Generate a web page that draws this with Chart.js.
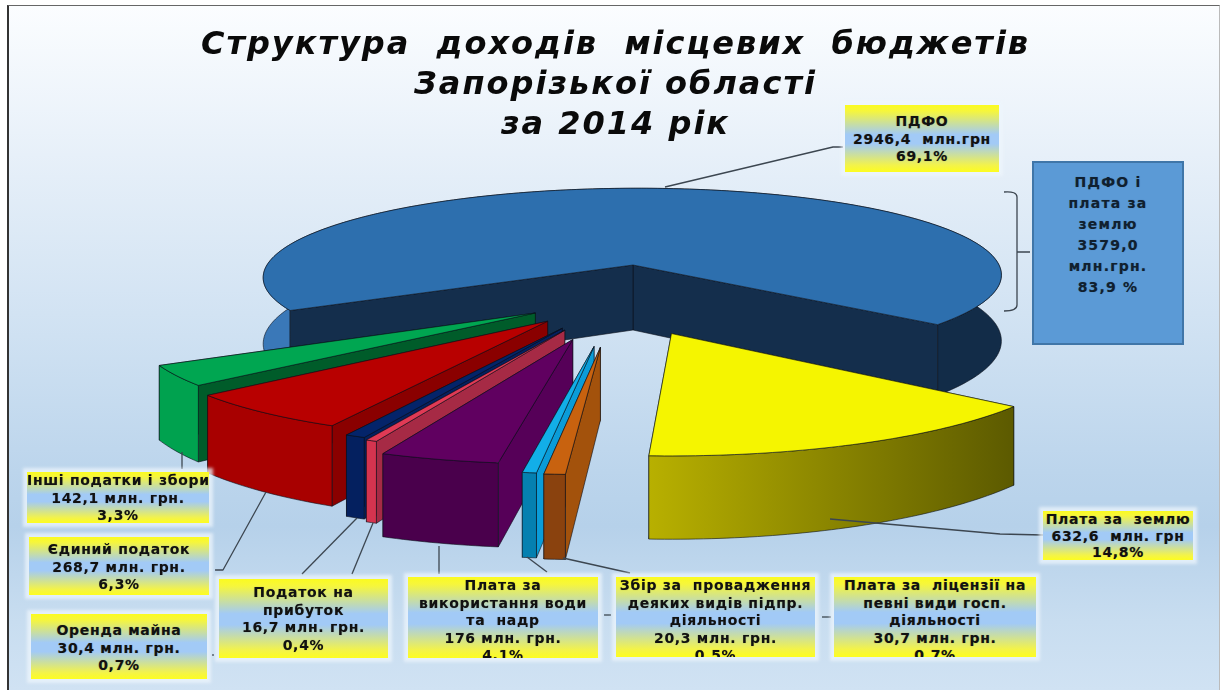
<!DOCTYPE html>
<html lang="uk">
<head>
<meta charset="utf-8">
<title>Структура доходів місцевих бюджетів</title>
<script src="https://cdn.jsdelivr.net/npm/chart.js@4"></script>
<style>
html,body{margin:0;padding:0;width:1223px;height:690px;overflow:hidden;background:#fff}
#frame{position:absolute;left:7px;top:5px;width:1213px;height:685px;box-sizing:border-box;
 border-left:2px solid #333;border-top:1px solid #666;border-right:1px solid #bbb;
 background:linear-gradient(#fbfdff 0%,#e4eef8 25%,#d2e3f3 45%,#bcd5ec 68%,#b6d1ea 76%,#c8ddf0 90%,#d0e2f3 100%)}
canvas{position:absolute;left:0;top:0}
.box{position:absolute;box-sizing:border-box;overflow:hidden;text-align:center;white-space:pre;
 font:bold 14px/17.5px "DejaVu Sans",sans-serif;letter-spacing:.7px;color:#111;
 text-shadow:0 0 1px rgba(0,0,0,.35);
 background:linear-gradient(#fbfb20 0%,#f6f63c 9%,#a2caf6 44%,#a2caf6 58%,#f3f34a 90%,#fdfd20 100%)}
.glow{position:absolute;box-shadow:0 0 3px 4px rgba(238,245,252,.75)}
#sum{position:absolute;left:1032px;top:161px;width:152px;height:184px;box-sizing:border-box;
 background:#5b9ad6;border:2px solid #4076a8;text-align:center;white-space:pre;color:#10202f;
 font:bold 14px/21px "DejaVu Sans",sans-serif;letter-spacing:1.2px;padding-top:9px;text-shadow:0 0 1px rgba(0,0,0,.3)}
</style>
</head>
<body>
<div id="frame"></div>
<canvas id="c" width="1223" height="690"></canvas>
<div id="labels"></div>
<div id="sum"></div>
<script>
// ---- data ----
const categories = ["ПДФО","Плата за землю","Плата за ліцензії на певні види госп. діяльності","Збір за провадження деяких видів підпр. діяльності","Плата за використання води та надр","Податок на прибуток","Оренда майна","Єдиний податок","Інші податки і збори"];
const valuesMln = [2946.4,632.6,30.7,20.3,176,16.7,30.4,268.7,142.1];
const percentLabels = ["69,1%","14,8%","0,7%","0,5%","4,1%","0,4%","0,7%","6,3%","3,3%"];

// ---- slice styling ----
const topColors = ["#2d6fae","#f5f500","#c8620f","#12aee8","#600060","#e03a55","#04246a","#b80000","#00a651"];
const wallLeft  = ["#3a78b8","#b8b000","#8a420e","#0580b0","#4a004c","#d5344f","#04205f","#a80000","#00a24f"];
const wallRight = ["#122c48","#5c5a00","#8a420e","#0580b0","#4a004c","#d5344f","#04205f","#a80000","#00a24f"];
const cutColors = ["#142e4c","#5c5a00","#a3520c","#0a9cd8","#560058","#a62a45","#04205f","#8a0000","#005c2a"];
const sliceShift    = [0,266,311,309,288,258,252,232,209];
const sliceShiftDir = [0,81.6,94.5,95.6,100,103.1,104,109,115];
const paintOrder = [0,8,7,6,5,4,3,2,1];
const startRotation = 240.5;

// ---- callout texts and places ----
const calloutTexts = [
 "ПДФО\n2946,4  млн.грн\n69,1%",
 "Плата за  землю\n632,6  млн. грн\n14,8%",
 "Плата за  ліцензії на\nпевні види госп.\nдіяльності\n30,7 млн. грн.\n0,7%",
 "Збір за  провадження\nдеяких видів підпр.\nдіяльності\n20,3 млн. грн.\n0,5%",
 "Плата за\nвикористання води\nта  надр\n176 млн. грн.\n4,1%",
 "Податок на\nприбуток\n16,7 млн. грн.\n0,4%",
 "Оренда майна\n30,4 млн. грн.\n0,7%",
 "Єдиний податок\n268,7 млн. грн.\n6,3%",
 "Інші податки і збори\n142,1 млн. грн.\n3,3%"];
const calloutBoxes = [
 [845,105,154,67,8,17.5],[1043,511,150,49,0,16.5],[834,577,202,80,0,17.5],[616,577,199,80,0,17.5],[408,577,190,81,0,17.5],
 [219,579,169,79,5,17.5],[31,614,176,65,8,17.5],[29,537,180,58,4,17.5],[27,472,182,51,-1,17.5]];
const sumText = "ПДФО і\nплата за\nземлю\n3579,0\nмлн.грн.\n83,9 %";
const leaderLines = [
 [[665,187],[833,147],[843,147]],
 [[830,519],[1000,534],[1043,535]],
 [[182,452],[182,469]],
 [[266,492],[223,570],[215,570]],
 [[357,518],[302,574]],
 [[373,523],[352,574]],
 [[439,546],[439,574]],
 [[527,557],[547,572]],
 [[563,558],[630,573]],
 [[604,615],[611,615]],
 [[822,617],[831,617]],
 [[212,655],[214,655]]];

// ---- ground-plane projection for the tilted pie ----
const CX=633, CY=265, R=366, TILT=.2366, PERSP=.00035, SHEAR=.015, DEPTH=65;
function project(X,Y,down){
  const w=1-PERSP*Y;
  return [CX+(X-SHEAR*Y)/w, CY+TILT*Y/w+(down?DEPTH/w:0)];
}
function poly(ctx,pts,fill,stroke){
  ctx.beginPath();
  pts.forEach((p,i)=>i?ctx.lineTo(p[0],p[1]):ctx.moveTo(p[0],p[1]));
  ctx.closePath();
  ctx.fillStyle=fill;ctx.fill();
  ctx.strokeStyle=stroke;ctx.lineWidth=.8;ctx.stroke();
}
const pie3d={
  id:'pie3d',
  beforeDraw(chart){ chart.ctx.letterSpacing='2px'; },
  beforeDatasetDraw(chart,args){
    const ctx=chart.ctx, arcs=chart.getDatasetMeta(0).data;
    ctx.letterSpacing='0px';
    ctx.save();ctx.lineJoin='round';
    paintOrder.forEach(i=>{
      const a=arcs[i], s=a.startAngle, e=a.endAngle;
      const dir=sliceShiftDir[i]*Math.PI/180;
      const ox=sliceShift[i]*Math.cos(dir), oy=sliceShift[i]*Math.sin(dir);
      const n=Math.max(4,Math.ceil((e-s)*60));
      const rim=[];
      for(let j=0;j<=n;j++){const t=s+(e-s)*j/n;rim.push([ox+R*Math.cos(t),oy+R*Math.sin(t)]);}
      const P=(q,d)=>project(q[0],q[1],d);
      const tip=[ox,oy];
      const rimTop=rim.map(q=>P(q,false)), rimBot=rim.map(q=>P(q,true));
      const cut=q=>[P(tip,false),P(tip,true),P(q,true),P(q,false)];
      const xs=rimTop.map(p=>p[0]);
      const minX=Math.min(...xs), maxX=Math.max(...xs);
      const g=ctx.createLinearGradient(minX,0,maxX,0);
      g.addColorStop(0,wallLeft[i]);
      if(i===0){ g.addColorStop(.04,wallLeft[i]); g.addColorStop(.041,wallRight[i]); }
      g.addColorStop(1,wallRight[i]);
      const dark='rgba(10,15,25,.75)';
      const outer=()=>poly(ctx,rimTop.concat(rimBot.slice().reverse()),g,dark);
      if(i===0) outer();
      poly(ctx,cut(rim[n]),cutColors[i],dark);
      poly(ctx,cut(rim[0]),cutColors[i],dark);
      if(i!==0) outer();
      poly(ctx,[P(tip,false)].concat(rimTop),a.options.backgroundColor,dark);
    });
    ctx.strokeStyle='#3c4650';ctx.lineWidth=1.3;
    leaderLines.forEach(l=>{
      ctx.beginPath();l.forEach((p,j)=>j?ctx.lineTo(p[0],p[1]):ctx.moveTo(p[0],p[1]));ctx.stroke();
    });
    ctx.beginPath();ctx.moveTo(1004,192);ctx.quadraticCurveTo(1017,191,1017,197);ctx.lineTo(1017,305);
    ctx.quadraticCurveTo(1017,311,1004,311);ctx.moveTo(1017,252);ctx.lineTo(1030,252);ctx.stroke();
    ctx.restore();
    return false;
  }
};

new Chart(document.getElementById('c'),{
  type:'pie',
  data:{labels:categories,datasets:[{data:valuesMln,backgroundColor:topColors,borderWidth:0}]},
  options:{
    responsive:false,animation:false,events:[],rotation:startRotation,
    layout:{padding:{left:8}},
    plugins:{
      legend:{display:false},tooltip:{enabled:false},
      title:{display:true,align:'center',color:'#0a0a0a',padding:{top:26,bottom:0},
        font:{family:'"DejaVu Sans"',size:32,style:'italic',weight:'bold',lineHeight:1.25},
        text:["Структура  доходів  місцевих  бюджетів","Запорізької області","за 2014 рік"]}
    }
  },
  plugins:[pie3d]
});

const host=document.getElementById('labels');
calloutTexts.forEach((t,i)=>{
  const [x,y,w,h,pad,lh]=calloutBoxes[i];
  const gl=document.createElement('div');gl.className='glow';
  gl.style.cssText=`left:${x}px;top:${y}px;width:${w}px;height:${h}px`;
  host.appendChild(gl);
  const d=document.createElement('div');d.className='box';
  d.style.cssText=`left:${x}px;top:${y}px;width:${w}px;height:${h}px;padding-top:${Math.max(pad,0)}px;line-height:${lh}px`;
  d.textContent=t;
  host.appendChild(d);
});
document.getElementById('sum').textContent=sumText;
</script>
</body>
</html>
